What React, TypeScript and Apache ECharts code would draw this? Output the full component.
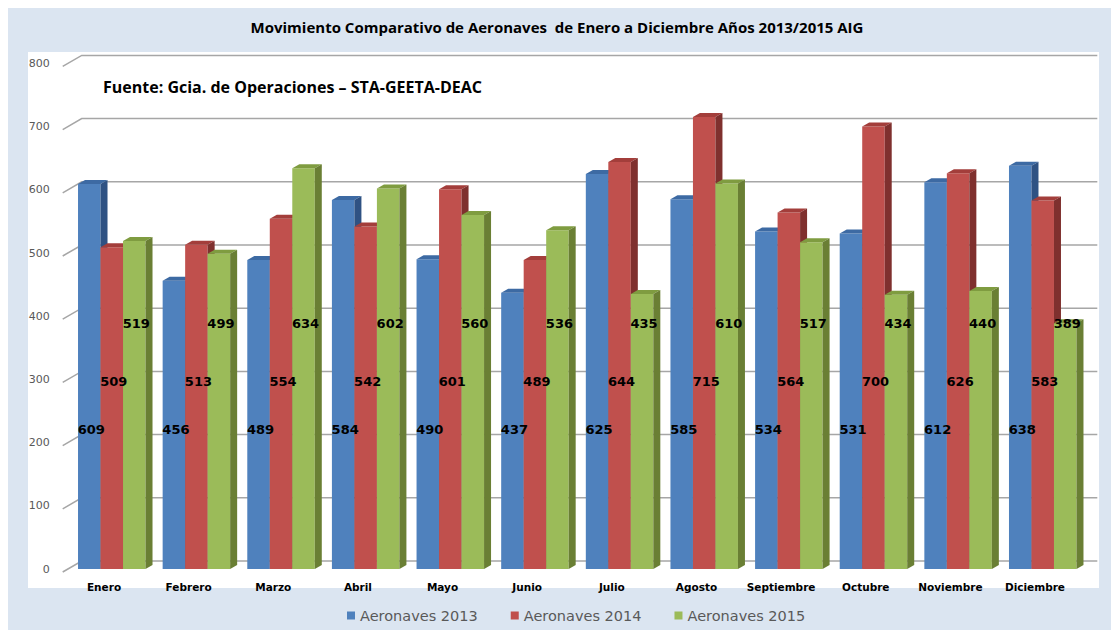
import React, { useEffect, useRef } from "react";
import * as echarts from "echarts";

const categories = ["Enero", "Febrero", "Marzo", "Abril", "Mayo", "Junio", "Julio", "Agosto", "Septiembre", "Octubre", "Noviembre", "Diciembre"];
const seriesNames = ["Aeronaves 2013", "Aeronaves 2014", "Aeronaves 2015"];
const values2013 = [609, 456, 489, 584, 490, 437, 625, 585, 534, 531, 612, 638];
const values2014 = [509, 513, 554, 542, 601, 489, 644, 715, 564, 700, 626, 583];
const values2015 = [519, 499, 634, 602, 560, 536, 435, 610, 517, 434, 440, 389];
const yTicks = [0, 100, 200, 300, 400, 500, 600, 700, 800];

const TITLE = "Movimiento Comparativo de Aeronaves  de Enero a Diciembre Años 2013/2015 AIG";
const SOURCE = "Fuente: Gcia. de Operaciones – STA-GEETA-DEAC";

const palette = [
  { front: "#4f81bd", top: "#3d6aa3", side: "#2f5283" },
  { front: "#c0504d", top: "#a33e3b", side: "#7f302e" },
  { front: "#9bbb59", top: "#7f9c40", side: "#6a7f34" },
];
const labelLevels = [220, 297, 388];

const BW = 22.5;
const DX = 7;
const DY = 4;
const GROUP_OFFSET = 26;

export default function App() {
  const ref = useRef<HTMLDivElement>(null);
  useEffect(() => {
    if (!ref.current) return;
    const chart = echarts.init(ref.current, null, { renderer: "svg" });
    const all = [values2013, values2014, values2015];

    const barSeries = all.map((vals, idx) => ({
      type: "custom",
      name: seriesNames[idx],
      z: 3 + idx,
      itemStyle: { color: palette[idx].front },
      data: vals.map((v, i) => [i, v]),
      encode: { x: 0, y: 1 },
      renderItem: (params: any, api: any) => {
        const i = api.value(0);
        const v = api.value(1);
        const t = api.coord([i, v]);
        const b = api.coord([i, 0]);
        const x = t[0] - GROUP_OFFSET + idx * BW;
        const yt = t[1];
        const yb = b[1];
        const c = palette[idx];
        return {
          type: "group",
          children: [
            { type: "rect", shape: { x, y: yt, width: BW, height: yb - yt }, style: { fill: c.front } },
            {
              type: "polygon",
              shape: { points: [[x, yt], [x + BW, yt], [x + BW + DX, yt - DY], [x + DX, yt - DY]] },
              style: { fill: c.top },
            },
            {
              type: "polygon",
              shape: { points: [[x + BW, yt], [x + BW + DX, yt - DY], [x + BW + DX, yb - DY], [x + BW, yb]] },
              style: { fill: c.side },
            },
          ],
        };
      },
    }));

    const labelSeries = all.map((vals, idx) => ({
      type: "custom",
      name: "lbl" + idx,
      z: 10,
      silent: true,
      data: vals.map((v, i) => [i, v]),
      encode: { x: 0, y: 1 },
      renderItem: (params: any, api: any) => {
        const i = api.value(0);
        const v = api.value(1);
        const p = api.coord([i, labelLevels[idx]]);
        const x = p[0] - GROUP_OFFSET + idx * BW + BW / 2 + 2;
        return {
          type: "text",
          x,
          y: p[1],
          style: {
            text: String(v),
            fill: "#000",
            font: "bold 13px 'DejaVu Sans'",
            align: "center",
            verticalAlign: "middle",
          },
        };
      },
    }));

    const gridSeries = {
      type: "custom",
      name: "grid",
      z: 1,
      silent: true,
      data: yTicks.map((v) => [0, v]),
      encode: { x: 0, y: 1 },
      renderItem: (params: any, api: any) => {
        const cs = params.coordSys;
        const y = api.coord([0, api.value(1)])[1];
        return {
          type: "polyline",
          shape: { points: [[cs.x + 1, y + 3], [cs.x + 20, y - 8], [cs.x + cs.width + 20, y - 8]] },
          style: { stroke: "#a6a6a6", lineWidth: 1.5, fill: null },
        };
      },
    };

    chart.setOption({
      animation: false,
      backgroundColor: "#dbe5f1",
      graphic: [
        { type: "rect", shape: { x: 20, y: 44, width: 1071, height: 536 }, style: { fill: "#ffffff" }, z: -10 },
        {
          type: "text",
          x: 549,
          y: 19,
          style: { text: TITLE, font: "bold 15px 'Open Sans'", fill: "#000", align: "center", verticalAlign: "middle" },
        },
        {
          type: "text",
          x: 95,
          y: 79,
          style: { text: SOURCE, font: "bold 16px 'Open Sans'", fill: "#000", align: "left", verticalAlign: "middle" },
          z: 20,
        },
      ],
      legend: {
        data: seriesNames,
        bottom: 2,
        left: 334,
        itemWidth: 8,
        itemHeight: 8,
        itemGap: 33,
        icon: "rect",
        textStyle: { fontFamily: "DejaVu Sans", fontSize: 14.5, color: "#595959" },
      },
      grid: { left: 53.7, right: 33.7, top: 55.4, bottom: 61, containLabel: false },
      xAxis: {
        type: "category",
        data: categories,
        axisLine: { show: false },
        axisTick: { show: false },
        axisLabel: { interval: 0, margin: 12, fontFamily: "DejaVu Sans", fontWeight: "bold", fontSize: 10.5, color: "#000" },
      },
      yAxis: {
        type: "value",
        min: 0,
        max: 800,
        interval: 100,
        axisLine: { show: false },
        axisTick: { show: false },
        splitLine: { show: false },
        axisLabel: { margin: 12, fontFamily: "DejaVu Sans", fontSize: 11, color: "#595959" },
      },
      series: [gridSeries, ...barSeries, ...labelSeries],
    });
    return () => chart.dispose();
  }, []);
  return <div ref={ref} style={{ position: "absolute", left: 8, top: 8, width: 1103, height: 622 }} />;
}
